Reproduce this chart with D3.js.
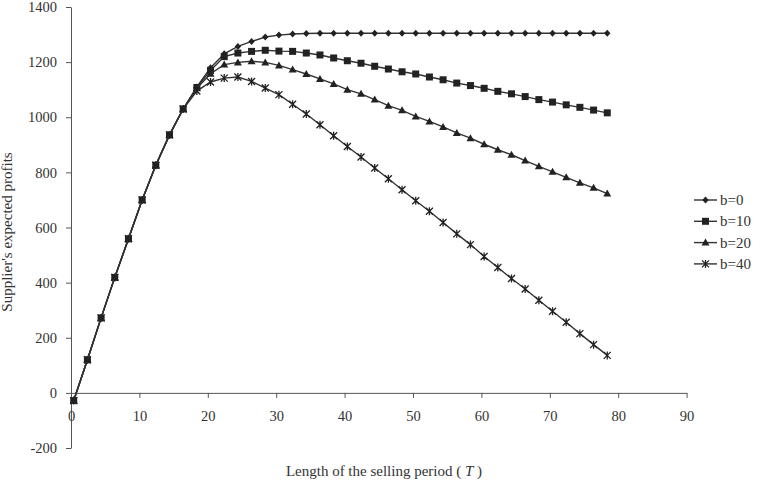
<!DOCTYPE html>
<html lang="en">
<head>
  <meta charset="UTF-8">
  <title>Supplier's expected profits</title>
  <script src="https://cdn.jsdelivr.net/npm/d3@7"></script>
  <style>
    body { margin: 0; background: #fff; }
    text { font-family: "Liberation Serif", "DejaVu Serif", serif; fill: #333; }
  </style>
</head>
<body>
<script>
// selling period lengths (T)
const periods = [0.4, 2.4, 4.4, 6.4, 8.4, 10.4, 12.4, 14.4, 16.4, 18.4,
  20.4, 22.4, 24.4, 26.4, 28.4, 30.4, 32.4, 34.4, 36.4, 38.4,
  40.4, 42.4, 44.4, 46.4, 48.4, 50.4, 52.4, 54.4, 56.4, 58.4,
  60.4, 62.4, 64.4, 66.4, 68.4, 70.4, 72.4, 74.4, 76.4, 78.4];

const b0 = [-28, 120, 272, 419, 559, 700, 826, 936, 1030, 1110,
  1180, 1230, 1257, 1275, 1291, 1298, 1302, 1304, 1305, 1305,
  1305, 1305, 1305, 1305, 1305, 1305, 1305, 1305, 1305, 1305,
  1305, 1305, 1305, 1305, 1305, 1305, 1305, 1305, 1305, 1305];

const b10 = [-28, 120, 272, 419, 559, 700, 826, 936, 1030, 1108,
  1170, 1220, 1233, 1239, 1243, 1240, 1239, 1233, 1226, 1215,
  1205, 1196, 1185, 1175, 1165, 1157, 1146, 1136, 1124, 1115,
  1105, 1094, 1085, 1075, 1064, 1055, 1045, 1036, 1026, 1016];

const b20 = [-28, 120, 272, 419, 559, 700, 826, 936, 1030, 1105,
  1158, 1191, 1199, 1203, 1199, 1188, 1173, 1157, 1139, 1121,
  1100, 1085, 1064, 1042, 1025, 1003, 985, 965, 943, 924,
  902, 882, 864, 843, 822, 802, 782, 762, 744, 723];

const b40 = [-28, 120, 272, 419, 559, 700, 826, 936, 1030, 1095,
  1128, 1142, 1146, 1130, 1106, 1082, 1047, 1012, 973, 933,
  894, 856, 816, 777, 737, 697, 659, 618, 577, 538,
  495, 455, 415, 377, 336, 296, 256, 215, 175, 136];

const seriesNames = ["b=0", "b=10", "b=20", "b=40"];
const xTicks = [0, 10, 20, 30, 40, 50, 60, 70, 80, 90];
const yTicks = [-200, 0, 200, 400, 600, 800, 1000, 1200, 1400];

const width = 768, height = 481;
const x = d3.scaleLinear().domain([0, 90]).range([71, 686.6]);
const y = d3.scaleLinear().domain([-200, 1400]).range([448, 7]);

const svg = d3.select("body").append("svg")
  .attr("width", width)
  .attr("height", height);

// y axis on the left
const yAxis = svg.append("g")
  .attr("transform", `translate(${x(0)},0)`)
  .call(d3.axisLeft(y).tickValues(yTicks).tickFormat(d => String(d))
    .tickSize(5).tickPadding(9).tickSizeOuter(0));
yAxis.selectAll("text").style("font-size", "14.5px").attr("font-family", null);

// x axis crosses at zero
const xAxis = svg.append("g")
  .attr("transform", `translate(0,${y(0)})`)
  .call(d3.axisBottom(x).tickValues(xTicks).tickFormat(d => String(d))
    .tickSize(5).tickPadding(13).tickSizeOuter(0));
xAxis.selectAll("text").style("font-size", "14.5px").attr("font-family", null);

svg.selectAll(".domain, .tick line").attr("stroke", "#555");

const allSeries = [b0, b10, b20, b40];
const markers = ["diamond", "square", "triangle", "star"];

const line = d3.line()
  .x((d, i) => x(periods[i]))
  .y(d => y(d));

function drawMarker(g, type) {
  if (type === "diamond") {
    g.append("path").attr("d", "M0,-3.5L3.2,0L0,3.5L-3.2,0Z").attr("fill", "#222");
  } else if (type === "square") {
    g.append("rect").attr("x", -3.5).attr("y", -3.5).attr("width", 7).attr("height", 7).attr("fill", "#222");
  } else if (type === "triangle") {
    g.append("path").attr("d", "M0,-4L4,3L-4,3Z").attr("fill", "#222");
  } else {
    g.append("path").attr("d", "M-3.5,-3.5L3.5,3.5M-3.5,3.5L3.5,-3.5M0,-4L0,4")
      .attr("stroke", "#222").attr("stroke-width", 1.3).attr("fill", "none");
  }
}

allSeries.forEach((vals, s) => {
  svg.append("path")
    .datum(vals)
    .attr("d", line)
    .attr("fill", "none")
    .attr("stroke", "#333")
    .attr("stroke-width", 1.4);

  svg.append("g").selectAll("g")
    .data(vals)
    .join("g")
    .attr("transform", (d, i) => `translate(${x(periods[i])},${y(d)})`)
    .each(function () { drawMarker(d3.select(this), markers[s]); });
});

// legend
const legend = svg.append("g");
seriesNames.forEach((name, i) => {
  const ly = 200 + i * 21.3;
  legend.append("line")
    .attr("x1", 694).attr("x2", 717)
    .attr("y1", ly).attr("y2", ly)
    .attr("stroke", "#333").attr("stroke-width", 1.4);
  drawMarker(legend.append("g").attr("transform", `translate(705.5,${ly})`), markers[i]);
  legend.append("text")
    .attr("x", 720).attr("y", ly + 5)
    .style("font-size", "15px")
    .text(name);
});

// axis titles
svg.append("text")
  .attr("transform", "translate(12,232) rotate(-90)")
  .attr("text-anchor", "middle")
  .style("font-size", "15px")
  .text("Supplier's expected profits");

const xTitle = svg.append("text")
  .attr("x", 384)
  .attr("y", 476)
  .attr("text-anchor", "middle")
  .style("font-size", "15px");
xTitle.append("tspan").text("Length of the selling period ( ");
xTitle.append("tspan").style("font-style", "italic").text("T");
xTitle.append("tspan").text(" )");
</script>
</body>
</html>
